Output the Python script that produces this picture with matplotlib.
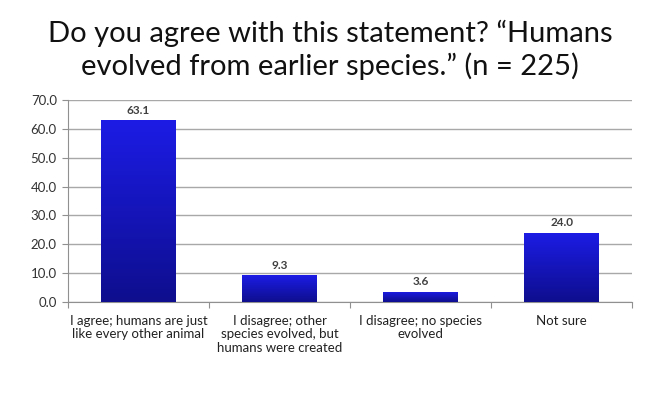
import matplotlib.pyplot as plt
import numpy as np
from matplotlib.colors import LinearSegmentedColormap

categories = ["I agree; humans are just\nlike every other animal",
              "I disagree; other\nspecies evolved, but\nhumans were created",
              "I disagree; no species\nevolved",
              "Not sure"]
values = [63.1, 9.3, 3.6, 24.0]
yticks = [0, 10, 20, 30, 40, 50, 60, 70]
title = "Do you agree with this statement? \u201cHumans\nevolved from earlier species.\u201d (n = 225)"

plt.rcParams['font.family'] = ['Lato', 'DejaVu Sans']

fig = plt.figure(figsize=(6.6, 4), dpi=100)
ax = fig.add_axes([0.103, 0.245, 0.855, 0.505])

x = np.arange(len(categories))
bars = ax.bar(x, values, width=0.53, color='none', edgecolor='none', zorder=3)

# vertical gradient in each bar
cmap = LinearSegmentedColormap.from_list('bl', ['#0e0e8e', '#1c1ce6'])
grad = np.linspace(0, 1, 256).reshape(-1, 1)
for b in bars:
    x0, y0 = b.get_x(), b.get_y()
    w, h = b.get_width(), b.get_height()
    im = ax.imshow(grad, cmap=cmap, origin='lower', aspect='auto',
                   extent=[x0, x0 + w, y0, y0 + h], zorder=3)
    im.set_clip_path(b)
    ax.text(x0 + w / 2, h + 1.5, f"{h:.1f}", ha='center', va='bottom',
            fontsize=8.5, color='#404040', fontweight='bold')

ax.set_xlim(-0.5, len(categories) - 0.5)
ax.set_ylim(0, 70)
ax.set_yticks(yticks)
ax.set_yticklabels([f"{v:.1f}" for v in yticks], fontsize=9.5, color='#333333')
ax.yaxis.grid(True, color='#a8a8a8', linewidth=1)
ax.set_axisbelow(True)

ax.set_xticks(np.arange(len(categories) + 1) - 0.5)
ax.set_xticklabels([])
ax.tick_params(axis='x', length=4, color='#909090', direction='out')
ax.tick_params(axis='y', length=4, color='#909090', direction='out', pad=4)
for i, c in enumerate(categories):
    ax.text(i, -4.5, c, ha='center', va='top', fontsize=9.5, color='#222222',
            linespacing=1.15)

for s in ['top', 'right']:
    ax.spines[s].set_visible(False)
for s in ['left', 'bottom']:
    ax.spines[s].set_color('#909090')

fig.text(0.5, 0.80, title, ha='center', va='bottom', fontsize=21,
         color='#111111', linespacing=1.22)

fig.savefig('out.png', dpi=100)
